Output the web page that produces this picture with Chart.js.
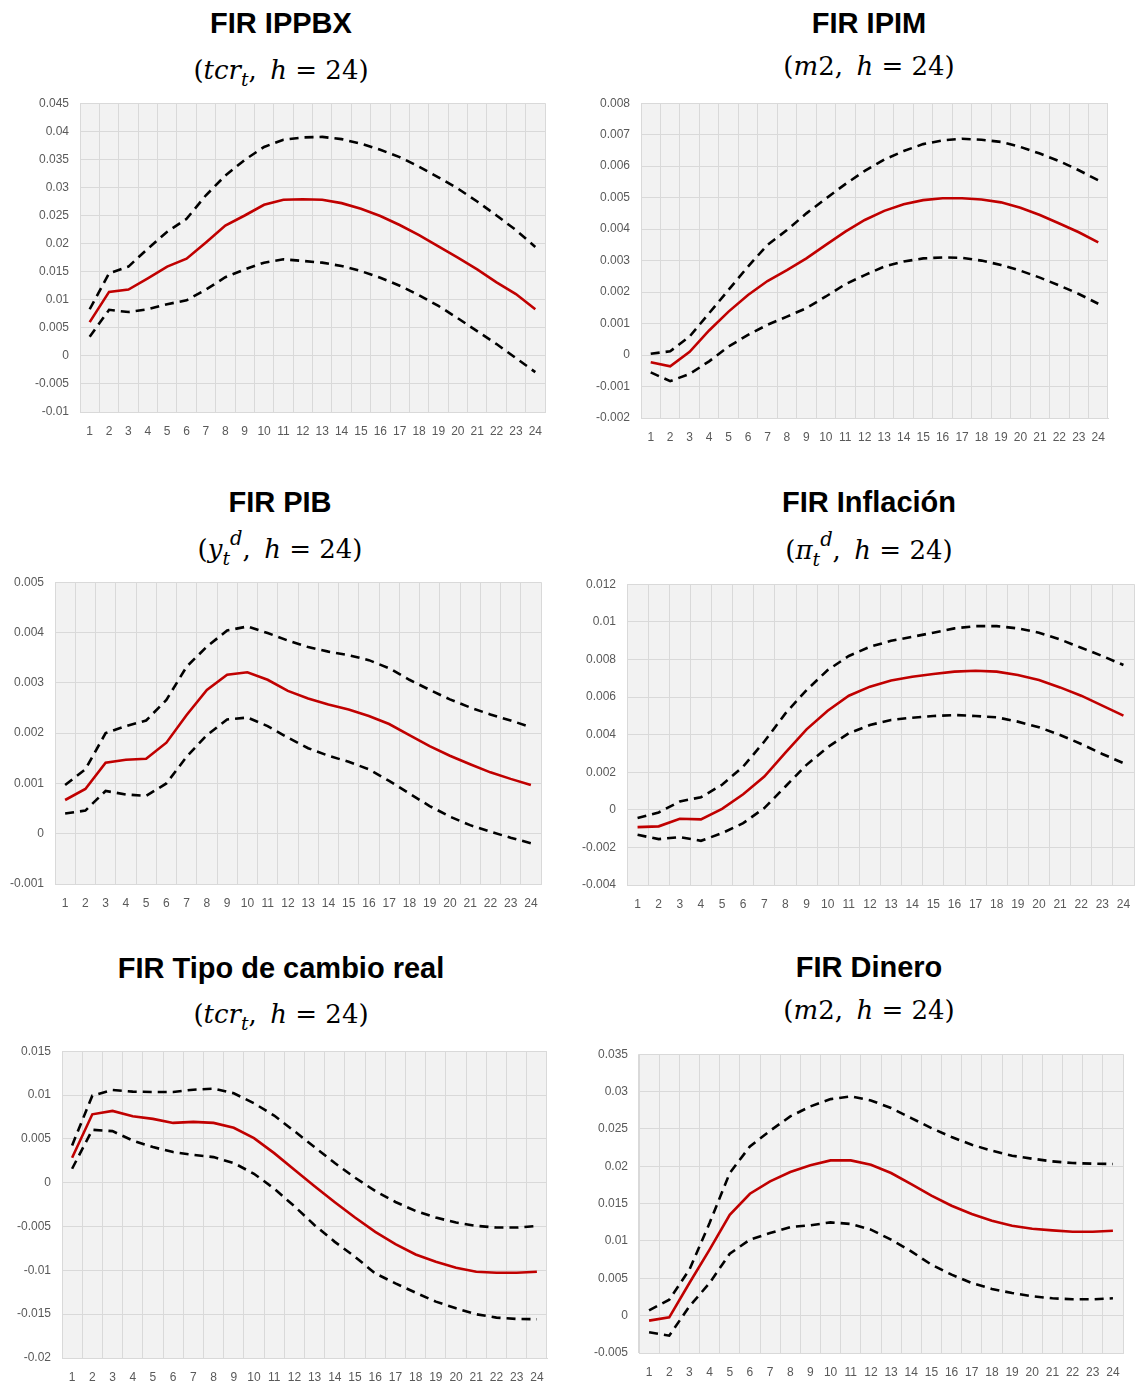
<!DOCTYPE html>
<html>
<head>
<meta charset="utf-8">
<script src="https://cdn.jsdelivr.net/npm/chart.js@4.4.1/dist/chart.umd.min.js"></script>
<style>
html, body { margin: 0; padding: 0; background: #fff; overflow: hidden; }
#page { position: relative; width: 1136px; height: 1387px; }
.ttl { position: absolute; width: 520px; margin-left: -260px; text-align: center; font: bold 29px 'Liberation Sans', Arial, sans-serif; line-height: 29px; color: #000; white-space: nowrap; }
.sub { position: absolute; width: 520px; margin-left: -260px; text-align: center; font: 26px 'DejaVu Serif', serif; line-height: 26px; color: #000; white-space: nowrap; }
.lo { position: relative; top: 0.4em; font-size: 0.72em; line-height: 0; }
.hi { position: relative; top: -0.65em; font-size: 0.75em; line-height: 0; }
canvas { position: absolute; }
</style>
</head>
<body>
<div id="page"></div>
<script>
const horizons = ['1','2','3','4','5','6','7','8','9','10','11','12','13','14','15','16','17','18','19','20','21','22','23','24'];

// FIR IPPBX (tcr)
const ippbxIrf   = [0.0060, 0.0114, 0.0118, 0.0138, 0.0159, 0.0173, 0.0202, 0.0232, 0.0250, 0.0269, 0.0278, 0.0279, 0.0278, 0.0272, 0.0262, 0.0249, 0.0233, 0.0215, 0.0195, 0.0175, 0.0154, 0.0131, 0.0110, 0.0083];
const ippbxUpper = [0.0083, 0.0147, 0.0159, 0.0191, 0.0221, 0.0244, 0.0286, 0.0321, 0.0349, 0.0372, 0.0385, 0.0389, 0.0390, 0.0386, 0.0378, 0.0367, 0.0354, 0.0337, 0.0318, 0.0298, 0.0275, 0.0250, 0.0224, 0.0194];
const ippbxLower = [0.0034, 0.0082, 0.0078, 0.0083, 0.0092, 0.0099, 0.0118, 0.0140, 0.0154, 0.0166, 0.0172, 0.0169, 0.0166, 0.0160, 0.0151, 0.0139, 0.0125, 0.0108, 0.0089, 0.0067, 0.0044, 0.0021, -0.0004, -0.0029];
const ippbxTicks = [-0.01, 0.045, 0.005];

// FIR IPIM (m2)
const ipimIrf   = [-0.00023, -0.00036, 0.0001, 0.00078, 0.00138, 0.00191, 0.00235, 0.0027, 0.00307, 0.0035, 0.00392, 0.00429, 0.00458, 0.00479, 0.00492, 0.00498, 0.00498, 0.00494, 0.00485, 0.00468, 0.00445, 0.00418, 0.0039, 0.00358];
const ipimUpper = [0.00004, 0.00012, 0.00059, 0.00133, 0.00207, 0.00281, 0.0035, 0.00397, 0.0045, 0.00497, 0.00543, 0.00585, 0.00621, 0.00648, 0.0067, 0.00682, 0.00687, 0.00684, 0.00677, 0.00661, 0.0064, 0.00616, 0.00587, 0.00555];
const ipimLower = [-0.00055, -0.00083, -0.0006, -0.0002, 0.00027, 0.00064, 0.00096, 0.00122, 0.00149, 0.00186, 0.00225, 0.00254, 0.00281, 0.00297, 0.00307, 0.0031, 0.00309, 0.003, 0.00286, 0.00268, 0.00246, 0.00221, 0.00194, 0.00163];
const ipimTicks = [-0.002, 0.008, 0.001];

// FIR PIB (y^d)
const pibIrf   = [0.00067, 0.00089, 0.00141, 0.00147, 0.00149, 0.00181, 0.00236, 0.00286, 0.00316, 0.00321, 0.00306, 0.00284, 0.00269, 0.00257, 0.00247, 0.00234, 0.00218, 0.00196, 0.00174, 0.00155, 0.00138, 0.00122, 0.00109, 0.00097];
const pibUpper = [0.00097, 0.00128, 0.0020, 0.00214, 0.00225, 0.00266, 0.00332, 0.00372, 0.00404, 0.00412, 0.00399, 0.00384, 0.00371, 0.00362, 0.00355, 0.00345, 0.00329, 0.00306, 0.00286, 0.00267, 0.00251, 0.00237, 0.00225, 0.00212];
const pibLower = [0.0004, 0.00046, 0.00085, 0.00078, 0.00075, 0.0010, 0.00153, 0.00196, 0.00227, 0.00231, 0.00214, 0.00191, 0.0017, 0.00155, 0.00143, 0.00128, 0.00105, 0.0008, 0.00055, 0.00034, 0.00017, 0.00004, -0.00008, -0.00019];
const pibTicks = [-0.001, 0.005, 0.001];

// FIR Inflacion (pi^d)
const inflIrf   = [-0.00092, -0.00088, -0.00048, -0.00051, 0.00005, 0.00083, 0.00177, 0.00304, 0.00428, 0.00527, 0.00607, 0.00655, 0.00688, 0.00708, 0.00722, 0.00735, 0.0074, 0.00735, 0.00717, 0.0069, 0.00651, 0.00607, 0.00554, 0.00501];
const inflUpper = [-0.00044, -0.00014, 0.00044, 0.00067, 0.00133, 0.0023, 0.00363, 0.00513, 0.00637, 0.00743, 0.00818, 0.00867, 0.00899, 0.0092, 0.00942, 0.00965, 0.00977, 0.00977, 0.00965, 0.00942, 0.00906, 0.00862, 0.00818, 0.0077];
const inflLower = [-0.00133, -0.00156, -0.00145, -0.00165, -0.00124, -0.00071, 0.00009, 0.00124, 0.00239, 0.00333, 0.00407, 0.00451, 0.00478, 0.0049, 0.00499, 0.00504, 0.00499, 0.00492, 0.00469, 0.00439, 0.00398, 0.0035, 0.00297, 0.00248];
const inflTicks = [-0.004, 0.012, 0.002];

// FIR Tipo de cambio real (tcr)
const tcrIrf   = [0.00284, 0.0078, 0.00819, 0.00758, 0.00728, 0.00682, 0.00694, 0.00682, 0.00626, 0.00508, 0.00337, 0.00148, -0.00042, -0.00224, -0.00398, -0.00561, -0.00701, -0.00819, -0.00902, -0.0097, -0.01016, -0.01027, -0.01027, -0.01016];
const tcrUpper = [0.00425, 0.00993, 0.01058, 0.01039, 0.01035, 0.01035, 0.01061, 0.01073, 0.0102, 0.00906, 0.00766, 0.00588, 0.00406, 0.00224, 0.00057, -0.00095, -0.0022, -0.00322, -0.00398, -0.00455, -0.00493, -0.00512, -0.00512, -0.00493];
const tcrLower = [0.00159, 0.00603, 0.00588, 0.00481, 0.00406, 0.00349, 0.00318, 0.00292, 0.00224, 0.00102, -0.00068, -0.00269, -0.00485, -0.00675, -0.00845, -0.01035, -0.01149, -0.01255, -0.01357, -0.01433, -0.01501, -0.01539, -0.01554, -0.01558];
const tcrTicks = [-0.02, 0.015, 0.005];

// FIR Dinero (m2)
const m2Irf   = [-0.00067, -0.00022, 0.00437, 0.00883, 0.01351, 0.01632, 0.01797, 0.01922, 0.02012, 0.02078, 0.02078, 0.0202, 0.01909, 0.01762, 0.01606, 0.01472, 0.0136, 0.01271, 0.01204, 0.01164, 0.01142, 0.01124, 0.01124, 0.01137];
const m2Upper = [0.00071, 0.00214, 0.00616, 0.0124, 0.01909, 0.02266, 0.02475, 0.02667, 0.02801, 0.02899, 0.02935, 0.02881, 0.02779, 0.02645, 0.02511, 0.02391, 0.02288, 0.02208, 0.02141, 0.02101, 0.02065, 0.02043, 0.02034, 0.0203];
const m2Lower = [-0.00223, -0.00268, 0.00125, 0.00437, 0.0083, 0.01017, 0.01106, 0.01186, 0.01209, 0.01249, 0.01227, 0.01151, 0.01017, 0.00861, 0.00682, 0.00549, 0.00437, 0.00357, 0.00303, 0.00259, 0.00232, 0.00219, 0.00219, 0.00232];
const m2Ticks = [-0.005, 0.035, 0.005];

const subTcr = '(<i>tcr</i><span class="lo"><i>t</i></span>, &thinsp;<i>h</i> = 24)';
const subM2 = '(<i>m</i>2, &thinsp;<i>h</i> = 24)';

// plot box: left, right, top, bottom; title centre x, title top, subtitle top
const panels = [
  { title: 'FIR IPPBX', sub: subTcr, irf: ippbxIrf, up: ippbxUpper, lo: ippbxLower, ticks: ippbxTicks, box: [80, 545, 103, 412], cx: 281, tt: 9, st: 57 },
  { title: 'FIR IPIM', sub: subM2, irf: ipimIrf, up: ipimUpper, lo: ipimLower, ticks: ipimTicks, box: [641, 1108, 103, 418], cx: 869, tt: 9, st: 53 },
  { title: 'FIR PIB', sub: '(<i>y</i><span class="lo"><i>t</i></span><span class="hi"><i>d</i></span>, &thinsp;<i>h</i> = 24)', irf: pibIrf, up: pibUpper, lo: pibLower, ticks: pibTicks, box: [55, 541, 582, 884], cx: 280, tt: 488, st: 536 },
  { title: 'FIR Inflación', sub: '(<i>π</i><span class="lo"><i>t</i></span><span class="hi"><i>d</i></span>, &thinsp;<i>h</i> = 24)', irf: inflIrf, up: inflUpper, lo: inflLower, ticks: inflTicks, box: [627, 1134, 584, 885], cx: 869, tt: 488, st: 537 },
  { title: 'FIR Tipo de cambio real', sub: subTcr, irf: tcrIrf, up: tcrUpper, lo: tcrLower, ticks: tcrTicks, box: [62, 547, 1051, 1358], cx: 281, tt: 954, st: 1001 },
  { title: 'FIR Dinero', sub: subM2, irf: m2Irf, up: m2Upper, lo: m2Lower, ticks: m2Ticks, box: [639, 1123, 1054, 1353], cx: 869, tt: 953, st: 997 }
];

const Y_W = 60, X_H = 30, PAD_T = 10, PAD_R = 12;
const tickFont = { family: "'Liberation Sans Narrow', 'Liberation Sans', sans-serif", size: 12 };

const plotBg = {
  id: 'plotBg',
  beforeDraw(chart) {
    const a = chart.chartArea, c = chart.ctx;
    c.save();
    c.fillStyle = '#f2f2f2';
    c.fillRect(a.left, a.top, a.right - a.left, a.bottom - a.top);
    c.restore();
  }
};

const page = document.getElementById('page');

function makeChart(cv, p) {
  const dashed = { borderColor: '#000', borderWidth: 2.6, borderDash: [9, 6], pointRadius: 0, tension: 0, fill: false };
  return new Chart(cv.getContext('2d'), {
    type: 'line',
    data: {
      labels: horizons,
      datasets: [
        Object.assign({ label: 'Superior', data: p.up }, dashed),
        { label: 'FIR', data: p.irf, borderColor: '#c00000', borderWidth: 2.6, pointRadius: 0, tension: 0, fill: false },
        Object.assign({ label: 'Inferior', data: p.lo }, dashed)
      ]
    },
    options: {
      responsive: false,
      maintainAspectRatio: false,
      animation: false,
      layout: { padding: { top: PAD_T, right: PAD_R, left: 0, bottom: 0 } },
      plugins: { legend: { display: false }, tooltip: { enabled: false } },
      scales: {
        x: {
          type: 'category',
          offset: true,
          grid: { offset: true, color: '#d9d9d9', drawTicks: false },
          border: { color: '#d9d9d9' },
          ticks: { color: '#595959', font: tickFont, padding: 12, autoSkip: false, maxRotation: 0 },
          afterFit(scale) { scale.height = X_H; }
        },
        y: {
          min: p.ticks[0],
          max: p.ticks[1],
          grid: { color: '#d9d9d9', drawTicks: false },
          border: { color: '#d9d9d9' },
          ticks: {
            stepSize: p.ticks[2],
            color: '#595959',
            font: tickFont,
            padding: 11,
            callback: v => String(Number(v.toFixed(4)))
          },
          afterFit(scale) { scale.width = Y_W; }
        }
      }
    },
    plugins: [plotBg]
  });
}

panels.forEach(p => {
  const t = document.createElement('div');
  t.className = 'ttl';
  t.style.left = p.cx + 'px';
  t.style.top = p.tt + 'px';
  t.textContent = p.title;
  page.appendChild(t);

  const s = document.createElement('div');
  s.className = 'sub';
  s.style.left = p.cx + 'px';
  s.style.top = p.st + 'px';
  s.innerHTML = p.sub;
  page.appendChild(s);

  const [L, R, T, B] = p.box;
  let cv = document.createElement('canvas');
  cv.width = (R - L) + Y_W + PAD_R;
  cv.height = (B - T) + PAD_T + X_H;
  page.appendChild(cv);
  let chart = makeChart(cv, p);

  // the chart area can sit lower than the padding asks for; grow the canvas to keep the plot size
  const extra = Math.round(chart.chartArea.top - PAD_T);
  if (extra > 0) {
    chart.destroy();
    cv.remove();
    cv = document.createElement('canvas');
    cv.width = (R - L) + Y_W + PAD_R;
    cv.height = (B - T) + PAD_T + X_H + extra;
    page.appendChild(cv);
    chart = makeChart(cv, p);
  }
  cv.style.left = (L - chart.chartArea.left) + 'px';
  cv.style.top = (T - chart.chartArea.top) + 'px';
});
</script>
</body>
</html>
